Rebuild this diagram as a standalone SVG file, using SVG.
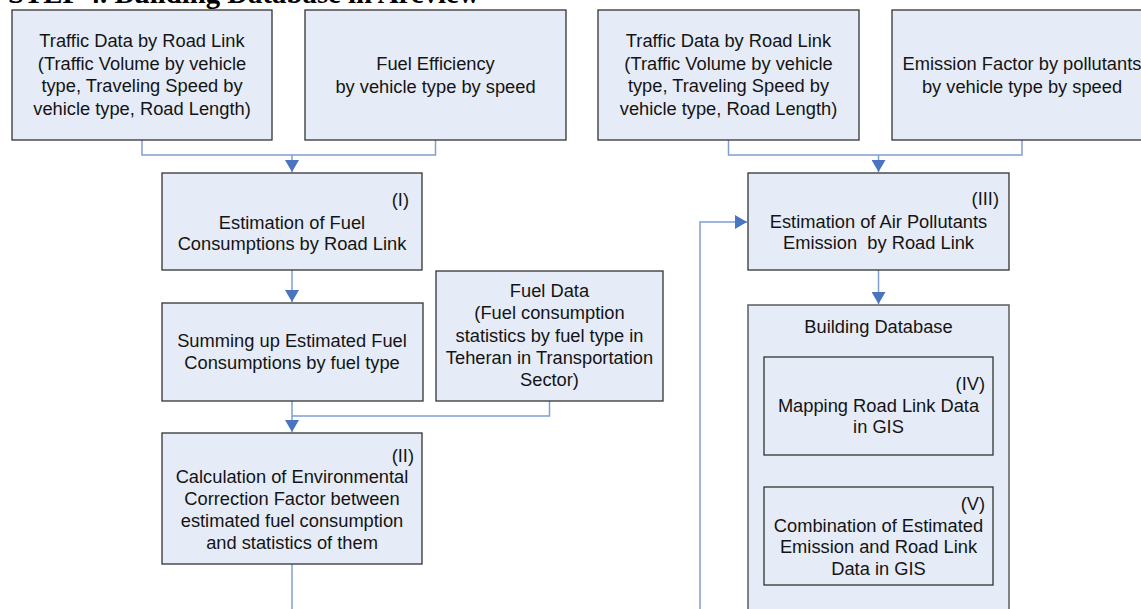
<svg xmlns="http://www.w3.org/2000/svg" width="1141" height="609" viewBox="0 0 1141 609">
  <style>
    .box { fill: #e6ecf7; stroke: #333333; stroke-width: 1.3; }
    .outer { fill: #e6ecf7; stroke: #666666; stroke-width: 1.6; }
    .lbl { font-family: "Liberation Sans", Arial, sans-serif; font-size: 18.3px; fill: #141414; text-anchor: middle; white-space: pre; }
    .num { font-family: "Liberation Sans", Arial, sans-serif; font-size: 18.3px; fill: #141414; text-anchor: end; }
    .title { font-family: "Liberation Serif", "Times New Roman", serif; font-size: 28.8px; font-weight: bold; fill: #000000; }
    .wire { fill: none; stroke: #7f9fd3; stroke-width: 1.5; }
    .head { fill: #4a74c0; }
  </style>
  <defs>
    <marker id="arr" viewBox="0 0 12 14" refX="12" refY="7" markerWidth="12" markerHeight="14" markerUnits="userSpaceOnUse" orient="auto">
      <path d="M0,0 L12,7 L0,14 Z" class="head"/>
    </marker>
  </defs>

  <!-- heading, partly above the page edge -->
  <text class="title" x="8" y="3">STEP 4. Building Database in Arcview</text>

  <!-- connectors -->
  <g id="connectors">
    <polyline class="wire" points="142,140 142,155 435.5,155 435.5,140"/>
    <line class="wire" x1="292" y1="155" x2="292" y2="172" marker-end="url(#arr)"/>
    <line class="wire" x1="292" y1="270" x2="292" y2="302" marker-end="url(#arr)"/>
    <polyline class="wire" points="292,401 292,416 549.5,416 549.5,401"/>
    <line class="wire" x1="292" y1="416" x2="292" y2="432" marker-end="url(#arr)"/>
    <line class="wire" x1="292" y1="564" x2="292" y2="609"/>
    <polyline class="wire" points="728.5,140 728.5,155 1022,155 1022,140"/>
    <line class="wire" x1="878.5" y1="155" x2="878.5" y2="172" marker-end="url(#arr)"/>
    <line class="wire" x1="878.5" y1="270" x2="878.5" y2="304" marker-end="url(#arr)"/>
    <line class="wire" x1="878.5" y1="455" x2="878.5" y2="486" marker-end="url(#arr)"/>
    <polyline class="wire" points="700,609 700,222 747,222" marker-end="url(#arr)"/>
  </g>

  <g id="traffic-data-left">
    <rect class="box" x="12" y="10" width="260" height="130"/>
    <text class="lbl" x="142" y="47">Traffic Data by Road Link</text>
    <text class="lbl" x="142" y="69.5">(Traffic Volume by vehicle</text>
    <text class="lbl" x="142" y="92">type, Traveling Speed by</text>
    <text class="lbl" x="142" y="114.5">vehicle type, Road Length)</text>
  </g>

  <g id="fuel-efficiency">
    <rect class="box" x="305" y="10" width="261" height="130"/>
    <text class="lbl" x="435.5" y="70">Fuel Efficiency</text>
    <text class="lbl" x="435.5" y="92.5">by vehicle type by speed</text>
  </g>

  <g id="traffic-data-right">
    <rect class="box" x="598" y="10" width="261" height="130"/>
    <text class="lbl" x="728.5" y="47">Traffic Data by Road Link</text>
    <text class="lbl" x="728.5" y="69.5">(Traffic Volume by vehicle</text>
    <text class="lbl" x="728.5" y="92">type, Traveling Speed by</text>
    <text class="lbl" x="728.5" y="114.5">vehicle type, Road Length)</text>
  </g>

  <g id="emission-factor">
    <rect class="box" x="892" y="10" width="261" height="130"/>
    <text class="lbl" x="1022" y="70">Emission Factor by pollutants</text>
    <text class="lbl" x="1022" y="92.5">by vehicle type by speed</text>
  </g>

  <g id="step-1">
    <rect class="box" x="162" y="173" width="260" height="97"/>
    <text class="num" x="409" y="206">(I)</text>
    <text class="lbl" x="292" y="228.5">Estimation of Fuel</text>
    <text class="lbl" x="292" y="249.5">Consumptions by Road Link</text>
  </g>

  <g id="summing">
    <rect class="box" x="162" y="303" width="261" height="98"/>
    <text class="lbl" x="292" y="347">Summing up Estimated Fuel</text>
    <text class="lbl" x="292" y="368.5">Consumptions by fuel type</text>
  </g>

  <g id="fuel-data">
    <rect class="box" x="436" y="271" width="227" height="130"/>
    <text class="lbl" x="549.5" y="297">Fuel Data</text>
    <text class="lbl" x="549.5" y="319.3">(Fuel consumption</text>
    <text class="lbl" x="549.5" y="341.6">statistics by fuel type in</text>
    <text class="lbl" x="549.5" y="364">Teheran in Transportation</text>
    <text class="lbl" x="549.5" y="386.3">Sector)</text>
  </g>

  <g id="step-2">
    <rect class="box" x="162" y="433" width="260" height="131"/>
    <text class="num" x="414" y="462">(II)</text>
    <text class="lbl" x="292" y="483">Calculation of Environmental</text>
    <text class="lbl" x="292" y="505">Correction Factor between</text>
    <text class="lbl" x="292" y="527">estimated fuel consumption</text>
    <text class="lbl" x="292" y="549">and statistics of them</text>
  </g>

  <g id="step-3">
    <rect class="box" x="748" y="173" width="261" height="97"/>
    <text class="num" x="999" y="205">(III)</text>
    <text class="lbl" x="878.5" y="228">Estimation of Air Pollutants</text>
    <text class="lbl" x="878.5" y="249.3">Emission  by Road Link</text>
  </g>

  <g id="building-database">
    <rect class="outer" x="748" y="305" width="261" height="320"/>
    <text class="lbl" x="878.5" y="333">Building Database</text>
  </g>

  <g id="step-4">
    <rect class="box" x="764" y="357" width="229" height="98"/>
    <text class="num" x="985" y="390">(IV)</text>
    <text class="lbl" x="878.5" y="411.7">Mapping Road Link Data</text>
    <text class="lbl" x="878.5" y="433.3">in GIS</text>
  </g>

  <g id="step-5">
    <rect class="box" x="764" y="487" width="229" height="98"/>
    <text class="num" x="985" y="510">(V)</text>
    <text class="lbl" x="878.5" y="531.7">Combination of Estimated</text>
    <text class="lbl" x="878.5" y="553.3">Emission and Road Link</text>
    <text class="lbl" x="878.5" y="575">Data in GIS</text>
  </g>
</svg>
